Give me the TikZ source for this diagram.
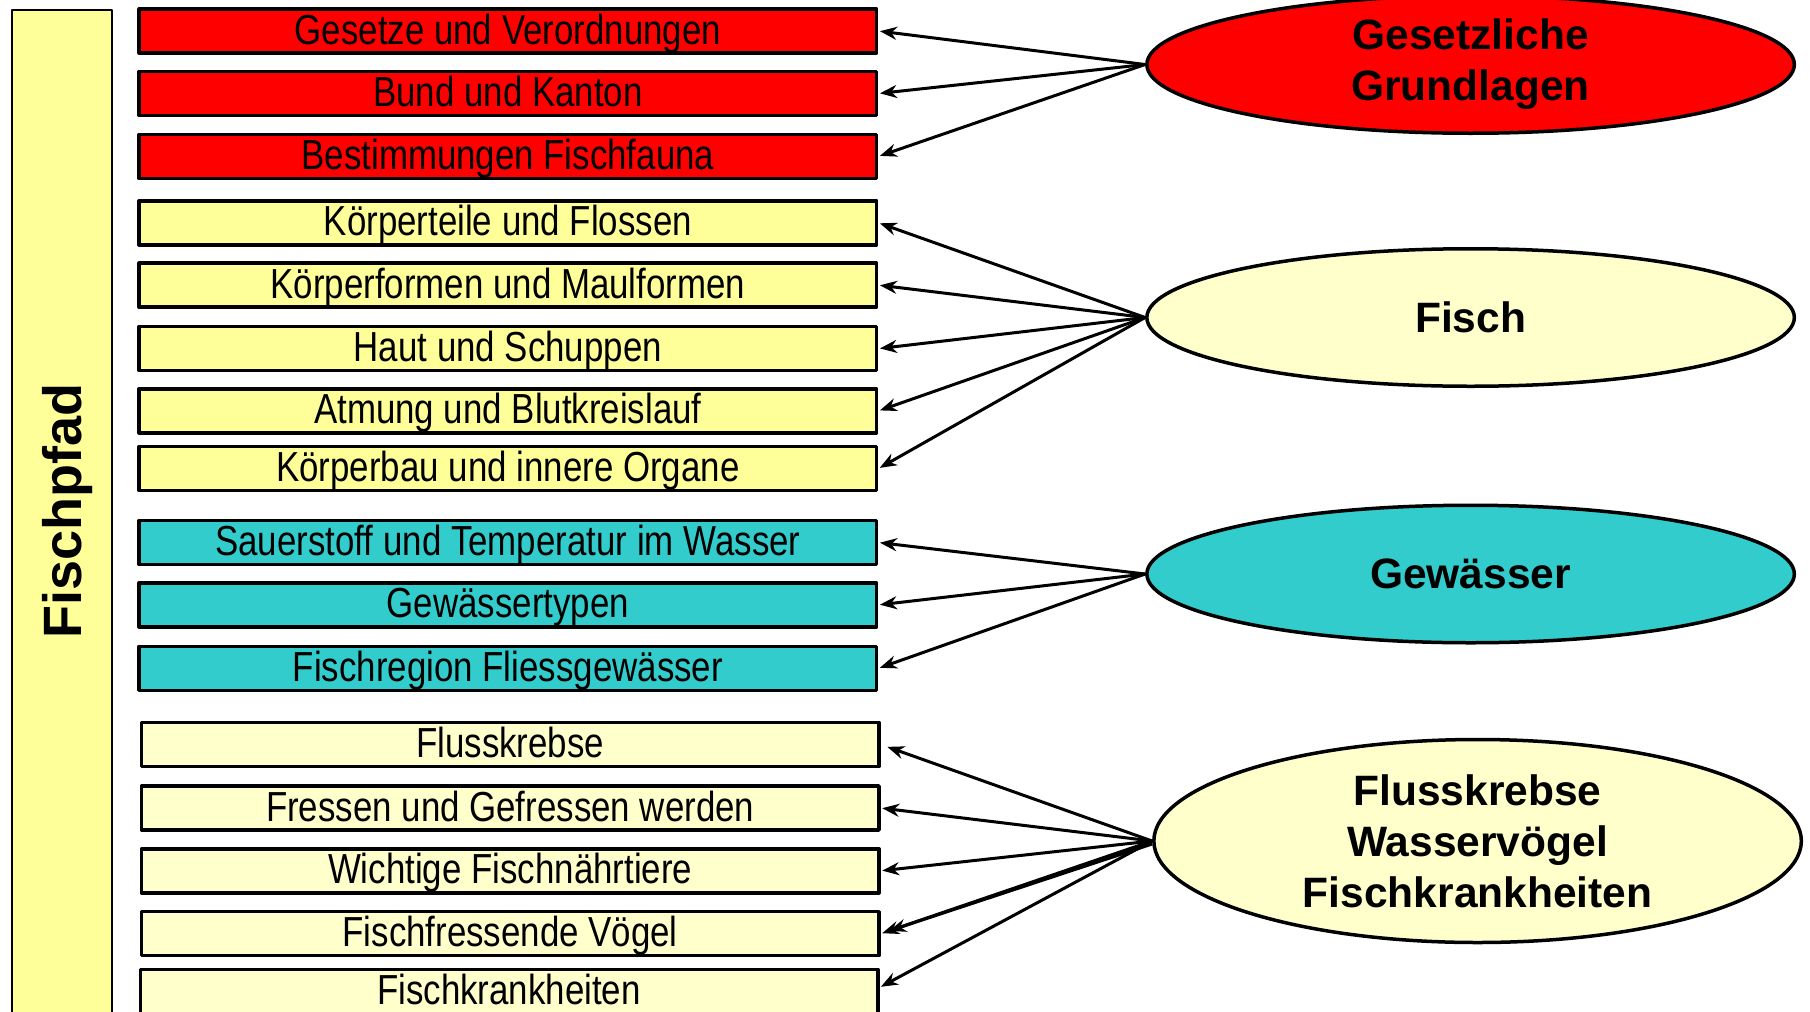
\documentclass[tikz,border=0pt]{standalone}
\usepackage{fontspec}
\setmainfont{Liberation Sans}
\newfontfamily\schmalsans[FakeStretch=0.83]{Liberation Sans}
\usepackage{tikz}
\usetikzlibrary{shapes.geometric,arrows.meta}

\definecolor{gesetzrot}{HTML}{FF0000}
\definecolor{fischgelb}{HTML}{FFFF99}
\definecolor{wassertuerkis}{HTML}{33CCCC}
\definecolor{hellgelb}{HTML}{FFFFCC}

\begin{document}
\begin{tikzpicture}[
  x=1pt, y=-1pt,
  line join=round,
  >={Stealth[length=17pt, width=13pt]},
  thema/.style={
    rectangle, draw=black, line width=3.5pt,
    minimum width=737.5pt, minimum height=44pt,
    inner sep=0pt, text height=32pt, text depth=6pt,
    font=\schmalsans\fontsize{42}{48}\selectfont
  },
  gesetzbox/.style={thema, fill=gesetzrot},
  fischbox/.style={thema, fill=fischgelb},
  wasserbox/.style={thema, fill=wassertuerkis},
  krebsbox/.style={thema, fill=hellgelb},
  bereich/.style={
    ellipse, draw=black, line width=3.5pt,
    minimum width=647.5pt, minimum height=137.5pt,
    inner sep=0pt, align=center,
    font=\bfseries\fontsize{42.5}{51}\selectfont
  },
  trans/.style={->, line width=3pt, draw=black, shorten >=1.5pt}
]
\useasboundingbox (0,0) rectangle (1810,1012);

% =========================================================================
% Linke Leiste
% =========================================================================
\node[draw=black, line width=1.5pt, fill=fischgelb, inner sep=0pt,
      minimum width=100pt, minimum height=1030pt] (pfad) at (62.2, 525) {};
\node[rotate=90, inner sep=0pt, font=\bfseries\fontsize{54}{60}\selectfont]
  (pfadtext) at (68, 511) {Fischpfad};

% =========================================================================
% Themen (Kästchen)
% =========================================================================
% Gesetzliche Grundlagen
\node[gesetzbox] (gesetze)  at (507.9,  31.0) {Gesetze und Verordnungen};
\node[gesetzbox] (bund)     at (507.9,  93.5) {Bund und Kanton};
\node[gesetzbox] (fauna)    at (507.9, 156.4) {Bestimmungen Fischfauna};

% Fisch
\node[fischbox] (flossen)   at (507.9, 222.8) {Körperteile und Flossen};
\node[fischbox] (formen)    at (507.9, 285.1) {Körperformen und Maulformen};
\node[fischbox] (haut)      at (507.9, 348.6) {Haut und Schuppen};
\node[fischbox] (atmung)    at (507.9, 410.9) {Atmung und Blutkreislauf};
\node[fischbox] (organe)    at (507.9, 468.6) {Körperbau und innere Organe};

% Gewässer
\node[wasserbox] (sauerstoff) at (507.9, 542.5) {Sauerstoff und Temperatur im Wasser};
\node[wasserbox] (typen)      at (507.9, 604.9) {Gewässertypen};
\node[wasserbox] (region)     at (507.9, 668.3) {Fischregion Fliessgewässer};

% Flusskrebse, Wasservögel, Fischkrankheiten
\node[krebsbox] (flusskrebse) at (510.2, 744.5) {Flusskrebse};
\node[krebsbox] (fressen)     at (510.2, 808.0) {Fressen und Gefressen werden};
\node[krebsbox] (naehrtiere)  at (510.2, 870.8) {Wichtige Fischnährtiere};
\node[krebsbox] (voegel)      at (510.2, 933.7) {Fischfressende Vögel};
\node[krebsbox] (krankheiten) at (509.0, 991.5) {Fischkrankheiten};

% =========================================================================
% Bereiche (Ellipsen)
% =========================================================================
\node[bereich, fill=gesetzrot] (grundlagen) at (1470.6, 64.5) {Gesetzliche\\Grundlagen};
\node[bereich, fill=hellgelb] (fisch) at (1470.6, 317.5) {Fisch};
\node[bereich, fill=wassertuerkis] (gewaesser) at (1470.6, 574) {Gewässer};
\node[bereich, fill=hellgelb, minimum height=203pt] (krebse) at (1477.6, 841)
  {Flusskrebse\\Wasservögel\\Fischkrankheiten};

% =========================================================================
% Pfeile
% =========================================================================
\draw[trans] (grundlagen.west) -- (gesetze.east);
\draw[trans] (grundlagen.west) -- (bund.east);
\draw[trans] (grundlagen.west) -- (fauna.east);

\draw[trans] (fisch.west) -- (flossen.east);
\draw[trans] (fisch.west) -- (formen.east);
\draw[trans] (fisch.west) -- (haut.east);
\draw[trans] (fisch.west) -- (atmung.east);
\draw[trans] (fisch.west) -- (organe.east);

\draw[trans] (gewaesser.west) -- (sauerstoff.east);
\draw[trans] (gewaesser.west) -- (typen.east);
\draw[trans] (gewaesser.west) -- (region.east);

\draw[trans, shorten >=7pt] (krebse.west) -- (flusskrebse.east);
\draw[trans] (krebse.west) -- (fressen.east);
\draw[trans] (krebse.west) -- (naehrtiere.east);
\draw[trans] (krebse.west) -- (voegel.east);
\draw[trans, shorten >=9pt] ([yshift=-3pt]krebse.west) -- (voegel.east);
\draw[trans] (krebse.west) -- ([yshift=4pt]krankheiten.east);

\end{tikzpicture}
\end{document}
